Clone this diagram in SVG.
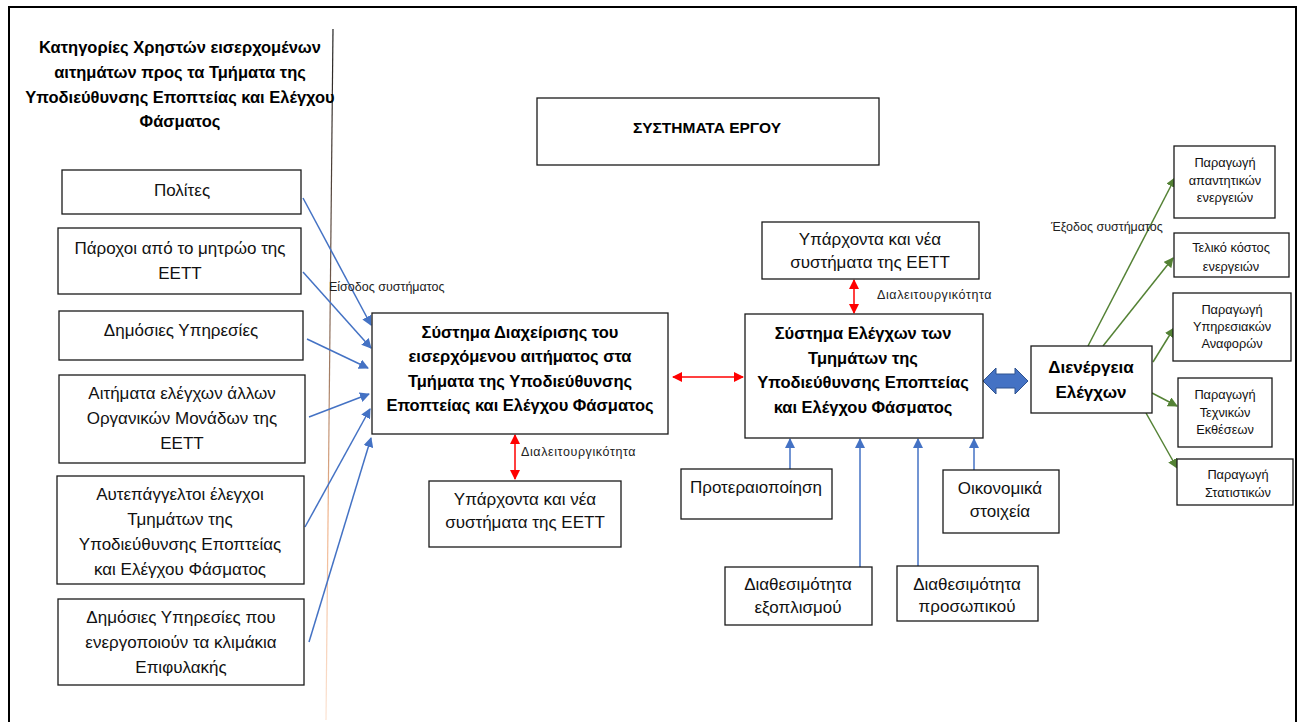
<svg xmlns="http://www.w3.org/2000/svg" width="1300" height="722" viewBox="0 0 1300 722">
<defs>
<style>
.box{fill:#fff;stroke:#1a1a1a;stroke-width:1.3}
.t{font-family:"Liberation Sans",Arial,sans-serif;font-size:17px;fill:#111;text-anchor:middle}
.tb{font-family:"Liberation Sans",Arial,sans-serif;font-size:16.5px;font-weight:bold;fill:#000;text-anchor:middle}
.ts{font-family:"Liberation Sans",Arial,sans-serif;font-size:12.8px;fill:#111;text-anchor:middle}
.lbl{font-family:"Liberation Sans",Arial,sans-serif;font-size:12.5px;fill:#222}
.blue{stroke:#4472C4;stroke-width:1.5;fill:none;marker-end:url(#ab)}
.red{stroke:#FF0000;stroke-width:1.5;fill:none;marker-start:url(#rs);marker-end:url(#re)}
.green{stroke:#548235;stroke-width:1.5;fill:none;marker-end:url(#ag)}
</style>
<marker id="ab" viewBox="0 0 10 10" refX="9" refY="5" markerWidth="10" markerHeight="10" markerUnits="userSpaceOnUse" orient="auto"><path d="M0,0 L10,5 L0,10 z" fill="#4472C4"/></marker>
<marker id="ag" viewBox="0 0 10 10" refX="9" refY="5" markerWidth="10" markerHeight="10" markerUnits="userSpaceOnUse" orient="auto"><path d="M0,0 L10,5 L0,10 z" fill="#548235"/></marker>
<marker id="re" viewBox="0 0 10 10" refX="9" refY="5" markerWidth="10" markerHeight="10" markerUnits="userSpaceOnUse" orient="auto"><path d="M0,0 L10,5 L0,10 z" fill="#FF0000"/></marker>
<marker id="rs" viewBox="0 0 10 10" refX="1" refY="5" markerWidth="10" markerHeight="10" markerUnits="userSpaceOnUse" orient="auto"><path d="M10,0 L0,5 L10,10 z" fill="#FF0000"/></marker>
<linearGradient id="vg" gradientUnits="userSpaceOnUse" x1="0" y1="29" x2="0" y2="720">
<stop offset="0" stop-color="#222"/>
<stop offset="0.35" stop-color="#6b5548"/>
<stop offset="0.7" stop-color="#f0b48c"/>
<stop offset="1" stop-color="#fbe3d3"/>
</linearGradient>
</defs>
<rect width="1300" height="722" fill="#fff"/>
<path d="M9,730 L9,7 L1296,7 L1296,730" fill="none" stroke="#000" stroke-width="2"/>
<line x1="333" y1="29" x2="326" y2="720" stroke="url(#vg)" stroke-width="1.2"/>

<g id="title">
<text class="tb" x="180" y="53">Κατηγορίες Χρηστών εισερχομένων</text>
<text class="tb" x="180" y="78">αιτημάτων προς τα Τμήματα της</text>
<text class="tb" x="180" y="103">Υποδιεύθυνσης Εποπτείας και Ελέγχου</text>
<text class="tb" x="180" y="127">Φάσματος</text>
</g>

<g id="connectors">
<line class="blue" x1="303" y1="198" x2="371" y2="325"/>
<line class="blue" x1="303" y1="272" x2="371" y2="348"/>
<line class="blue" x1="307" y1="339" x2="368" y2="368"/>
<line class="blue" x1="309" y1="417" x2="369" y2="394"/>
<line class="blue" x1="305" y1="527" x2="370" y2="409"/>
<line class="blue" x1="309" y1="642" x2="371" y2="438"/>
<line class="red" x1="673" y1="377" x2="743" y2="377"/>
<line class="red" x1="515" y1="435" x2="515" y2="479"/>
<line class="red" x1="854" y1="280" x2="854" y2="313"/>
<line class="blue" x1="790" y1="469" x2="790" y2="439"/>
<line class="blue" x1="860" y1="567" x2="860" y2="439"/>
<line class="blue" x1="918" y1="566" x2="918" y2="439"/>
<line class="blue" x1="974" y1="470" x2="974" y2="439"/>
<polygon points="983,381 996,368 996,374 1015,374 1015,368 1028,381 1015,394 1015,388 996,388 996,394" fill="#4472C4" stroke="#2F528F" stroke-width="1"/>
<line class="green" x1="1088" y1="346" x2="1175" y2="178"/>
<line class="green" x1="1103" y1="346" x2="1173" y2="258"/>
<line class="green" x1="1153" y1="362" x2="1174" y2="328"/>
<line class="green" x1="1152" y1="393" x2="1177" y2="406"/>
<line class="green" x1="1146" y1="413" x2="1177" y2="468"/>
<text class="lbl" x="329" y="291">Είσοδος συστήματος</text>
<text class="lbl" x="521" y="456" style="letter-spacing:0.6px">Διαλειτουργικότητα</text>
<text class="lbl" x="877" y="299" style="letter-spacing:0.6px">Διαλειτουργικότητα</text>
<text class="lbl" x="1051" y="231">Έξοδος συστήματος</text>
</g>

<g id="n-polites"><rect class="box" x="62" y="170" width="239" height="44"/><text class="t" x="182" y="196">Πολίτες</text></g>
<g id="n-parochoi"><rect class="box" x="58" y="228" width="243" height="66"/><text class="t" x="180" y="254">Πάροχοι από το μητρώο της</text><text class="t" x="180" y="279">ΕΕΤΤ</text></g>
<g id="n-dimosies"><rect class="box" x="59" y="311" width="244" height="49"/><text class="t" x="181" y="336">Δημόσιες Υπηρεσίες</text></g>
<g id="n-aitimata"><rect class="box" x="59" y="375" width="246" height="88"/><text class="t" x="182" y="399">Αιτήματα ελέγχων άλλων</text><text class="t" x="182" y="424">Οργανικών Μονάδων της</text><text class="t" x="182" y="449">ΕΕΤΤ</text></g>
<g id="n-autepaggeltoi"><rect class="box" x="57" y="476" width="247" height="108"/><text class="t" x="180" y="500">Αυτεπάγγελτοι έλεγχοι</text><text class="t" x="180" y="525">Τμημάτων της</text><text class="t" x="180" y="550">Υποδιεύθυνσης Εποπτείας</text><text class="t" x="180" y="575">και Ελέγχου Φάσματος</text></g>
<g id="n-klimakia"><rect class="box" x="58" y="599" width="246" height="86"/><text class="t" x="181" y="623">Δημόσιες Υπηρεσίες που</text><text class="t" x="181" y="648">ενεργοποιούν τα κλιμάκια</text><text class="t" x="181" y="673">Επιφυλακής</text></g>

<g id="n-systimata"><rect class="box" x="537" y="98" width="342" height="67"/><text class="tb" x="707" y="133" style="font-size:15.5px">ΣΥΣΤΗΜΑΤΑ ΕΡΓΟΥ</text></g>

<g id="n-diaxeirisi"><rect class="box" x="372" y="313" width="296" height="121"/><text class="tb" x="520" y="338">Σύστημα Διαχείρισης του</text><text class="tb" x="520" y="362">εισερχόμενου αιτήματος στα</text><text class="tb" x="520" y="387">Τμήματα της Υποδιεύθυνσης</text><text class="tb" x="520" y="411">Εποπτείας και Ελέγχου Φάσματος</text></g>
<g id="n-yparxonta1"><rect class="box" x="429" y="481" width="192" height="66"/><text class="t" x="525" y="505">Υπάρχοντα και νέα</text><text class="t" x="525" y="528">συστήματα της ΕΕΤΤ</text></g>

<g id="n-elegxoi"><rect class="box" x="745" y="314" width="238" height="124"/><text class="tb" x="863" y="339">Σύστημα Ελέγχων των</text><text class="tb" x="863" y="364">Τμημάτων της</text><text class="tb" x="863" y="388">Υποδιεύθυνσης Εποπτείας</text><text class="tb" x="863" y="413">και Ελέγχου Φάσματος</text></g>
<g id="n-yparxonta2"><rect class="box" x="762" y="222" width="217" height="57"/><text class="t" x="870" y="245">Υπάρχοντα και νέα</text><text class="t" x="870" y="268">συστήματα της ΕΕΤΤ</text></g>

<g id="n-proteraiopoiisi"><rect class="box" x="681" y="469" width="151" height="50"/><text class="t" x="756" y="493">Προτεραιοποίηση</text></g>
<g id="n-oikonomika"><rect class="box" x="943" y="470" width="116" height="63"/><text class="t" x="1000" y="494">Οικονομικά</text><text class="t" x="1000" y="517">στοιχεία</text></g>
<g id="n-exoplismos"><rect class="box" x="725" y="567" width="147" height="58"/><text class="t" x="798" y="590">Διαθεσιμότητα</text><text class="t" x="798" y="613">εξοπλισμού</text></g>
<g id="n-prosopiko"><rect class="box" x="897" y="566" width="141" height="55"/><text class="t" x="967" y="590">Διαθεσιμότητα</text><text class="t" x="967" y="612">προσωπικού</text></g>

<g id="n-dienergeia"><rect class="box" x="1031" y="346" width="121" height="67"/><text class="tb" x="1091" y="373" style="font-size:17px">Διενέργεια</text><text class="tb" x="1091" y="398" style="font-size:17px">Ελέγχων</text></g>

<g id="n-apantitikes"><rect class="box" x="1174" y="146" width="101" height="72"/><text class="ts" x="1225" y="167">Παραγωγή</text><text class="ts" x="1225" y="185">απαντητικών</text><text class="ts" x="1225" y="202">ενεργειών</text></g>
<g id="n-kostos"><rect class="box" x="1174" y="233" width="115" height="44"/><text class="ts" x="1231" y="252">Τελικό κόστος</text><text class="ts" x="1231" y="271">ενεργειών</text></g>
<g id="n-anafores"><rect class="box" x="1173" y="293" width="118" height="68"/><text class="ts" x="1232" y="314">Παραγωγή</text><text class="ts" x="1232" y="331">Υπηρεσιακών</text><text class="ts" x="1232" y="348">Αναφορών</text></g>
<g id="n-ektheseis"><rect class="box" x="1178" y="378" width="94" height="69"/><text class="ts" x="1225" y="399">Παραγωγή</text><text class="ts" x="1225" y="417">Τεχνικών</text><text class="ts" x="1225" y="434">Εκθέσεων</text></g>
<g id="n-statistika"><rect class="box" x="1177" y="459" width="116" height="46"/><text class="ts" x="1238" y="479">Παραγωγή</text><text class="ts" x="1238" y="497">Στατιστικών</text></g>
</svg>
